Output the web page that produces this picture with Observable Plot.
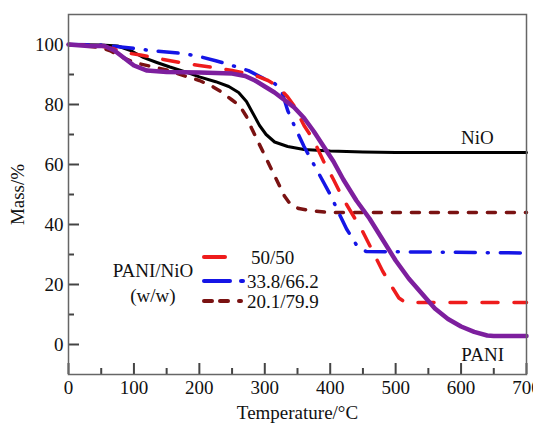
<!DOCTYPE html>
<html>
<head>
<meta charset="utf-8">
<script src="https://cdn.jsdelivr.net/npm/d3@7"></script>
<script src="https://cdn.jsdelivr.net/npm/@observablehq/plot@0.6"></script>
<style>
  html, body { margin: 0; padding: 0; background: #fff; }
  #wrap { position: relative; width: 533px; height: 427px; font-family: "Liberation Serif", "Times New Roman", serif; }
  #legend { position: absolute; left: 0; top: 0; pointer-events: none; }
</style>
</head>
<body>
<div id="wrap"></div>
<script>
// ---- data (Temperature °C, Mass %) ----
const nio = [[0,100],[50,99.8],[75,99.5],[95,98],[115,95.6],[135,94],[155,92.5],[180,90.8],[200,89.2],[225,87.6],[245,86],[260,84],[272,81],[282,77],[292,73],[302,70],[315,67.5],[335,66],[360,65],[400,64.5],[450,64.2],[500,64],[600,64],[700,64]];
const pani = [[0,100],[30,99.5],[55,99.5],[70,98],[85,95.5],[100,93],[120,91.3],[150,90.8],[200,90.7],[250,90.3],[270,89.5],[285,88],[300,86],[315,84],[330,81.5],[345,79],[360,75.5],[375,71],[390,66],[405,61],[420,55],[440,48],[460,42],[480,35],[500,28],[520,22],[540,17],[560,12],[580,8.5],[600,6],[620,4.2],[640,3],[650,2.8],[700,2.8]];
const pn5050 = [[0,100],[50,99.5],[70,98.5],[80,97.5],[110,96.5],[145,95],[170,94],[200,93],[225,92.2],[250,91.3],[275,90.3],[290,89.3],[305,88],[320,86],[335,82.5],[345,79.5],[360,73],[375,68],[390,61],[405,55],[420,48.5],[435,43],[450,37.5],[465,31],[480,24.5],[495,19],[505,15.5],[515,14],[700,14]];
const pn338 = [[0,100],[50,99.8],[80,99.2],[100,98.7],[125,98],[150,97.5],[175,97],[200,96],[225,94.6],[250,93],[275,91.3],[300,88.5],[315,87],[325,85],[335,78],[345,73],[360,66],[375,60],[385,56],[400,50],[415,43],[425,38.5],[435,35],[442,32.5],[455,31],[700,30.5]];
const pn201 = [[0,100],[30,99.4],[50,99],[65,97.8],[80,96],[95,94.5],[110,93.5],[130,92.5],[150,91.5],[175,89.7],[200,88],[220,86],[235,84],[250,81.5],[262,79.5],[272,76],[280,72],[290,67.5],[300,63],[310,58.5],[320,54],[330,49.5],[340,46.5],[352,45.3],[375,44.5],[400,44],[700,44]];

const xTicks = [0,100,200,300,400,500,600,700];
const xMinor = [50,150,250,350,450,550,650];
const yTicks = [0,20,40,60,80,100];
const yMinor = [10,30,50,70,90];

const annoLabel = ["NiO","PANI"];
const annoT = [625, 633];
const annoMass = [68.7, -3.4];
const annos = annoLabel.map((l,i) => ({label: l, t: annoT[i], m: annoMass[i]}));

const legendTitle = ["PANI/NiO","(w/w)"];
const legendLabels = ["50/50","33.8/66.2","20.1/79.9"];

const RED = "#ee1c1c", BLUE = "#1515e6", MAROON = "#7a1212", PURPLE = "#7d1f9e";
const TICK = "#444";
const FONT = "Liberation Serif, Times New Roman, serif";
const W = 533, H = 427, ML = 68, MR = 7, MT = 14, MB = 53;
const FW = W - ML - MR, FH = H - MT - MB;
const XD = [0, 700], YD = [-10, 110];
// tick lengths in px converted to data units
const pxX = (XD[1] - XD[0]) / FW, pxY = (YD[1] - YD[0]) / FH;

const chart = Plot.plot({
  width: W,
  height: H,
  marginLeft: ML,
  marginRight: MR,
  marginTop: MT,
  marginBottom: MB,
  style: {fontFamily: FONT, fontSize: "18px", color: "#111", background: "white"},
  x: {domain: XD},
  y: {domain: YD},
  marks: [
    // inward ticks
    Plot.ruleX(xTicks, {x: d => d, y1: YD[0], y2: YD[0] + 11 * pxY, stroke: TICK, strokeWidth: 2}),
    Plot.ruleX(xMinor, {x: d => d, y1: YD[0], y2: YD[0] + 6 * pxY, stroke: TICK, strokeWidth: 2}),
    Plot.ruleY(yTicks, {y: d => d, x1: XD[0], x2: XD[0] + 11 * pxX, stroke: TICK, strokeWidth: 2}),
    Plot.ruleY(yMinor, {y: d => d, x1: XD[0], x2: XD[0] + 6 * pxX, stroke: TICK, strokeWidth: 2}),
    Plot.line(nio, {x: d => d[0], y: d => d[1], stroke: "#000", strokeWidth: 3}),
    Plot.line(pn201, {x: d => d[0], y: d => d[1], stroke: MAROON, strokeWidth: 3.5, strokeDasharray: "8,11", strokeLinecap: "round"}),
    Plot.line(pn338, {x: d => d[0], y: d => d[1], stroke: BLUE, strokeWidth: 3.5, strokeDasharray: "20,12,1,12", strokeLinecap: "round"}),
    Plot.line(pn5050, {x: d => d[0], y: d => d[1], stroke: RED, strokeWidth: 3.5, strokeDasharray: "16,16", strokeLinecap: "round"}),
    Plot.line(pani, {x: d => d[0], y: d => d[1], stroke: PURPLE, strokeWidth: 4.5}),
    Plot.text(annos, {x: "t", y: "m", text: "label", fontSize: 19, fill: "#111"}),
    Plot.axisX(xTicks, {tickSize: 0, tickPadding: 6, fontSize: 19, fill: "#111",
      label: "Temperature/°C", labelAnchor: "center", labelOffset: 44, labelArrow: "none"}),
    Plot.axisY(yTicks, {tickSize: 0, tickPadding: 5, fontSize: 19, fill: "#111",
      label: "Mass/%", labelAnchor: "center", labelOffset: 58, labelArrow: "none"}),
    Plot.frame({stroke: "#666", strokeWidth: 1.5})
  ]
});

const wrap = document.getElementById("wrap");
wrap.appendChild(chart);

// legend overlay
const ns = "http://www.w3.org/2000/svg";
const lg = document.createElementNS(ns, "svg");
lg.setAttribute("id", "legend");
lg.setAttribute("width", W);
lg.setAttribute("height", H);
const swatches = [
  {c: RED, y: 257, segs: [[204, 225]]},
  {c: BLUE, y: 281, segs: [[204, 230], [241, 243]]},
  {c: MAROON, y: 301, segs: [[204, 212], [220, 228], [239, 241]]}
];
swatches.forEach((s, i) => {
  s.segs.forEach(([a, b]) => {
    const l = document.createElementNS(ns, "line");
    l.setAttribute("x1", a); l.setAttribute("x2", b);
    l.setAttribute("y1", s.y); l.setAttribute("y2", s.y);
    l.setAttribute("stroke", s.c); l.setAttribute("stroke-width", 4);
    l.setAttribute("stroke-linecap", "round");
    lg.appendChild(l);
  });
  const t = document.createElementNS(ns, "text");
  t.setAttribute("x", i === 0 ? 251 : 247);
  t.setAttribute("y", s.y);
  t.setAttribute("dy", "0.35em");
  t.setAttribute("font-family", FONT);
  t.setAttribute("font-size", 19);
  t.setAttribute("fill", "#111");
  t.textContent = legendLabels[i];
  lg.appendChild(t);
});
legendTitle.forEach((txt, i) => {
  const t = document.createElementNS(ns, "text");
  t.setAttribute("x", 153);
  t.setAttribute("y", i === 0 ? 270 : 295);
  t.setAttribute("dy", "0.35em");
  t.setAttribute("text-anchor", "middle");
  t.setAttribute("font-family", FONT);
  t.setAttribute("font-size", 19);
  t.setAttribute("fill", "#111");
  t.textContent = txt;
  lg.appendChild(t);
});
wrap.appendChild(lg);
</script>
</body>
</html>
